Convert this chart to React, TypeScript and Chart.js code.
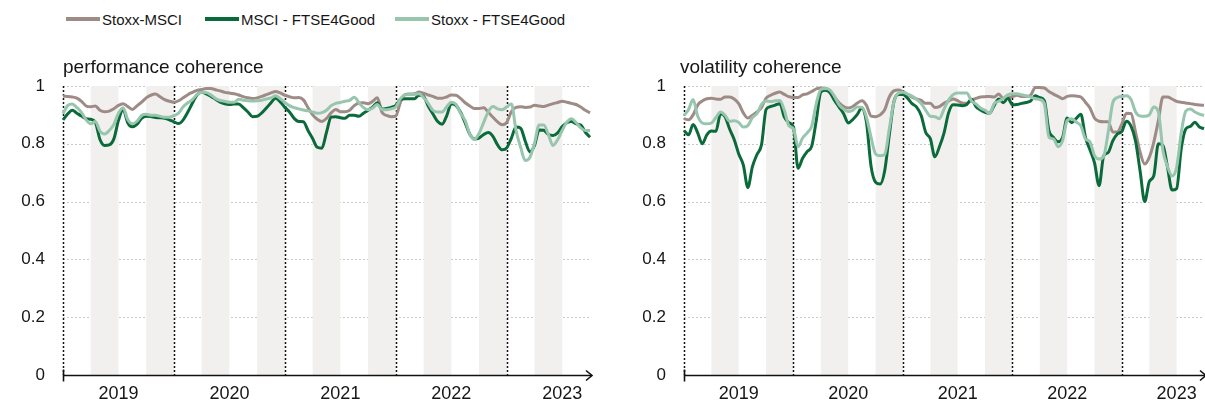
import React, { useEffect, useRef } from 'react';
import { Chart, registerables } from 'chart.js';

Chart.register(...registerables);

// ---------- data ----------
const YEAR_LABELS = ['2019', '2020', '2021', '2022', '2023'];
const STEPS_PER_YEAR = 24; // semi-monthly observations starting Jan 2019
const SERIES_NAMES = ['Stoxx-MSCI', 'MSCI - FTSE4Good', 'Stoxx - FTSE4Good'];
const SERIES_COLORS = ['#9e8b86', '#0b6a39', '#98c5ae'];
const Y_TICKS = [0, 0.2, 0.4, 0.6, 0.8, 1];
const PANEL_TITLES = ['performance coherence', 'volatility coherence'];

const perfStoxxMsci = [
  0.965, 0.964, 0.962, 0.958, 0.947, 0.931, 0.928, 0.931, 0.916, 0.911, 0.913, 0.921, 0.933, 0.939, 0.929, 0.919, 0.931, 0.944, 0.959, 0.968,
  0.972, 0.963, 0.953, 0.947, 0.944, 0.949, 0.959, 0.970, 0.978, 0.985, 0.988, 0.991, 0.991, 0.987, 0.983, 0.978, 0.976, 0.973,
  0.969, 0.963, 0.959, 0.957, 0.959, 0.964, 0.970, 0.976, 0.981, 0.976, 0.968, 0.963, 0.959, 0.960, 0.952, 0.925, 0.900, 0.885, 0.877, 0.888,
  0.907, 0.919, 0.911, 0.911, 0.916, 0.932, 0.941, 0.942, 0.939, 0.947, 0.959, 0.909, 0.898, 0.894, 0.896, 0.944, 0.970, 0.972, 0.973,
  0.979, 0.975, 0.969, 0.964, 0.958, 0.958, 0.962, 0.969, 0.968, 0.957, 0.942, 0.931, 0.922, 0.922, 0.925, 0.909, 0.892, 0.876, 0.866, 0.874,
  0.912, 0.926, 0.928, 0.926, 0.927, 0.933, 0.931, 0.929, 0.934, 0.939, 0.943, 0.947, 0.944, 0.940, 0.936, 0.927, 0.916, 0.907,
];
const perfMsciFtse = [
  0.883, 0.903, 0.916, 0.906, 0.896, 0.887, 0.885, 0.874, 0.815, 0.794, 0.796, 0.817, 0.881, 0.919, 0.873, 0.859, 0.867, 0.888, 0.895, 0.894,
  0.891, 0.890, 0.888, 0.883, 0.876, 0.870, 0.883, 0.910, 0.941, 0.970, 0.978, 0.973, 0.964, 0.954, 0.944, 0.938, 0.936, 0.938,
  0.938, 0.925, 0.910, 0.894, 0.895, 0.907, 0.924, 0.942, 0.958, 0.945, 0.926, 0.910, 0.888, 0.877, 0.876, 0.846, 0.818, 0.788, 0.785, 0.840,
  0.892, 0.894, 0.890, 0.888, 0.899, 0.899, 0.895, 0.906, 0.916, 0.927, 0.942, 0.920, 0.922, 0.926, 0.933, 0.954, 0.956, 0.956, 0.956,
  0.968, 0.964, 0.931, 0.904, 0.878, 0.868, 0.897, 0.939, 0.933, 0.909, 0.872, 0.833, 0.817, 0.820, 0.832, 0.839, 0.826, 0.796, 0.779, 0.786,
  0.820, 0.858, 0.854, 0.809, 0.772, 0.794, 0.848, 0.847, 0.832, 0.829, 0.838, 0.860, 0.873, 0.877, 0.869, 0.865, 0.840, 0.823,
];
const perfStoxxFtse = [
  0.904, 0.932, 0.938, 0.925, 0.909, 0.883, 0.869, 0.877, 0.844, 0.834, 0.846, 0.867, 0.906, 0.925, 0.884, 0.869, 0.878, 0.898, 0.902, 0.899,
  0.899, 0.895, 0.892, 0.892, 0.897, 0.906, 0.928, 0.942, 0.953, 0.971, 0.978, 0.977, 0.969, 0.957, 0.950, 0.947, 0.944, 0.944,
  0.954, 0.951, 0.949, 0.948, 0.949, 0.951, 0.955, 0.959, 0.966, 0.956, 0.943, 0.932, 0.925, 0.921, 0.917, 0.914, 0.910, 0.906, 0.908, 0.916,
  0.932, 0.940, 0.943, 0.947, 0.950, 0.961, 0.943, 0.925, 0.918, 0.924, 0.936, 0.919, 0.918, 0.921, 0.927, 0.956, 0.969, 0.971, 0.971,
  0.973, 0.960, 0.940, 0.916, 0.910, 0.910, 0.928, 0.944, 0.937, 0.906, 0.880, 0.834, 0.815, 0.836, 0.874, 0.911, 0.929, 0.921, 0.918, 0.928,
  0.938, 0.846, 0.788, 0.742, 0.753, 0.802, 0.865, 0.865, 0.832, 0.794, 0.814, 0.847, 0.875, 0.887, 0.873, 0.855, 0.846, 0.846,
];

const volStoxxMsci = [
  0.887, 0.883, 0.900, 0.934, 0.948, 0.956, 0.958, 0.955, 0.954, 0.962, 0.962, 0.955, 0.939, 0.907, 0.889, 0.899, 0.910, 0.926, 0.958, 0.968,
  0.975, 0.979, 0.971, 0.963, 0.960, 0.960, 0.969, 0.973, 0.981, 0.990, 0.993, 0.992, 0.980, 0.962, 0.942, 0.929, 0.924, 0.929, 0.941,
  0.949, 0.933, 0.896, 0.894, 0.900, 0.918, 0.962, 0.983, 0.986, 0.980, 0.971, 0.961, 0.955, 0.950, 0.940, 0.940, 0.926, 0.929, 0.940, 0.948,
  0.955, 0.949, 0.941, 0.940, 0.950, 0.957, 0.962, 0.963, 0.964, 0.962, 0.972, 0.957, 0.958, 0.963, 0.968, 0.964, 0.964, 0.968,
  0.995, 0.995, 0.993, 0.981, 0.972, 0.964, 0.956, 0.964, 0.966, 0.965, 0.962, 0.944, 0.924, 0.889, 0.878, 0.876, 0.876, 0.841, 0.841, 0.869,
  0.906, 0.905, 0.840, 0.771, 0.730, 0.753, 0.806, 0.881, 0.962, 0.962, 0.955, 0.947, 0.944, 0.941, 0.939, 0.936, 0.934, 0.933,
];
const volMsciFtse = [
  0.846, 0.831, 0.867, 0.838, 0.800, 0.831, 0.844, 0.843, 0.904, 0.894, 0.851, 0.815, 0.765, 0.727, 0.649, 0.721, 0.763, 0.797, 0.919, 0.929,
  0.934, 0.939, 0.892, 0.873, 0.858, 0.715, 0.750, 0.773, 0.792, 0.881, 0.979, 0.985, 0.977, 0.950, 0.927, 0.904, 0.872, 0.884, 0.902,
  0.925, 0.875, 0.723, 0.667, 0.661, 0.707, 0.829, 0.944, 0.971, 0.971, 0.958, 0.939, 0.927, 0.898, 0.839, 0.818, 0.755, 0.790, 0.837, 0.907,
  0.935, 0.934, 0.932, 0.936, 0.954, 0.929, 0.917, 0.909, 0.906, 0.933, 0.955, 0.942, 0.958, 0.935, 0.936, 0.940, 0.943, 0.948,
  0.966, 0.960, 0.949, 0.846, 0.822, 0.807, 0.822, 0.889, 0.873, 0.888, 0.902, 0.823, 0.779, 0.734, 0.655, 0.758, 0.770, 0.810, 0.834, 0.843,
  0.878, 0.861, 0.809, 0.705, 0.600, 0.669, 0.690, 0.800, 0.794, 0.719, 0.640, 0.645, 0.782, 0.851, 0.860, 0.875, 0.858, 0.852,
];
const volStoxxFtse = [
  0.898, 0.919, 0.953, 0.896, 0.872, 0.869, 0.872, 0.891, 0.910, 0.899, 0.878, 0.880, 0.874, 0.858, 0.863, 0.891, 0.904, 0.936, 0.948, 0.946,
  0.949, 0.950, 0.916, 0.862, 0.852, 0.790, 0.820, 0.838, 0.861, 0.939, 0.988, 0.991, 0.986, 0.964, 0.935, 0.920, 0.912, 0.916, 0.927,
  0.926, 0.892, 0.823, 0.765, 0.759, 0.763, 0.851, 0.943, 0.975, 0.978, 0.972, 0.965, 0.954, 0.939, 0.916, 0.895, 0.894, 0.887, 0.920, 0.951,
  0.970, 0.976, 0.976, 0.976, 0.949, 0.938, 0.924, 0.916, 0.905, 0.939, 0.947, 0.957, 0.969, 0.973, 0.973, 0.970, 0.966, 0.962,
  0.956, 0.953, 0.939, 0.823, 0.817, 0.790, 0.811, 0.881, 0.887, 0.875, 0.862, 0.817, 0.807, 0.759, 0.747, 0.757, 0.840, 0.942, 0.960, 0.964,
  0.966, 0.953, 0.910, 0.896, 0.895, 0.900, 0.927, 0.910, 0.777, 0.721, 0.689, 0.719, 0.837, 0.913, 0.920, 0.910, 0.903, 0.898,
];

const PERF_SERIES = [perfStoxxMsci, perfMsciFtse, perfStoxxFtse];
const VOL_SERIES = [volStoxxMsci, volMsciFtse, volStoxxFtse];

// ---------- styling ----------
const FONT = '"Liberation Sans", Arial, sans-serif';
const TEXT = '#161616';
const BAND = '#f1f0ee';
const GRID = '#c8c8c8';
const X_MAX = (perfStoxxMsci.length - 1) / STEPS_PER_YEAR;

const decorPlugin = {
  id: 'decor',
  beforeDatasetsDraw(chart: any) {
    const { ctx, chartArea: a, scales } = chart;
    const x = scales.x;
    const y = scales.y;
    ctx.save();
    // dotted horizontal grid
    ctx.strokeStyle = GRID;
    ctx.lineWidth = 1;
    ctx.setLineDash([2, 2]);
    for (const t of Y_TICKS) {
      if (t === 0) continue;
      const py = Math.round(y.getPixelForValue(t)) + 0.5;
      ctx.beginPath();
      ctx.moveTo(a.left, py);
      ctx.lineTo(a.right, py);
      ctx.stroke();
    }
    ctx.setLineDash([]);
    // shaded quarters (Q2 and Q4)
    ctx.fillStyle = BAND;
    for (let yr = 0; yr < YEAR_LABELS.length; yr++) {
      for (const [q0, q1] of [[0.25, 0.5], [0.75, 1]]) {
        if (yr + q0 >= X_MAX) continue;
        const x0 = x.getPixelForValue(yr + q0);
        const x1 = x.getPixelForValue(Math.min(yr + q1, X_MAX));
        ctx.fillRect(x0, a.top, x1 - x0, a.bottom - a.top);
      }
    }
    // dotted year boundaries
    ctx.strokeStyle = '#111';
    ctx.lineWidth = 1.5;
    ctx.setLineDash([2, 2]);
    for (let yr = 0; yr < YEAR_LABELS.length; yr++) {
      const px = Math.round(x.getPixelForValue(yr)) + 0.5;
      ctx.beginPath();
      ctx.moveTo(px, a.top);
      ctx.lineTo(px, a.bottom);
      ctx.stroke();
    }
    ctx.restore();
  },
  afterDatasetsDraw(chart: any) {
    const { ctx, chartArea: a } = chart;
    ctx.save();
    ctx.strokeStyle = '#111';
    ctx.lineWidth = 1.6;
    const by = Math.round(a.bottom) + 0.5;
    ctx.beginPath();
    ctx.moveTo(a.left, by);
    ctx.lineTo(a.right + 2, by);
    ctx.stroke();
    // arrow head
    ctx.beginPath();
    ctx.moveTo(a.right - 4, by - 5);
    ctx.lineTo(a.right + 2, by);
    ctx.lineTo(a.right - 4, by + 5);
    ctx.stroke();
    // origin tick
    ctx.beginPath();
    ctx.moveTo(Math.round(a.left) + 0.5, by - 6);
    ctx.lineTo(Math.round(a.left) + 0.5, by + 6);
    ctx.stroke();
    ctx.restore();
  },
};

function makeConfig(series: number[][], yWidth: number, padRight: number) {
  return {
    type: 'line' as const,
    data: {
      datasets: series.map((vals, si) => ({
        label: SERIES_NAMES[si],
        data: vals.map((v, i) => ({ x: i / STEPS_PER_YEAR, y: v })),
        borderColor: SERIES_COLORS[si],
        backgroundColor: SERIES_COLORS[si],
        borderWidth: 3,
        pointRadius: 0,
        tension: 0.3,
        cubicInterpolationMode: 'monotone' as const,
        fill: false,
        clip: false as any,
        order: 3 - si,
      })),
    },
    options: {
      animation: false as const,
      responsive: false,
      maintainAspectRatio: false,
      events: [],
      layout: { padding: { left: 0, right: padRight, top: 86, bottom: 0 } },
      plugins: { legend: { display: false }, tooltip: { enabled: false }, title: { display: false } },
      scales: {
        x: {
          type: 'linear' as const,
          min: 0,
          max: X_MAX,
          grid: { display: false, drawTicks: false },
          border: { display: false },
          afterBuildTicks: (s: any) => {
            s.ticks = YEAR_LABELS.map((_, i) => ({ value: i + 0.5 }));
          },
          afterFit: (s: any) => {
            s.height = 30;
          },
          ticks: {
            autoSkip: false,
            maxRotation: 0,
            padding: 8,
            color: TEXT,
            font: { family: FONT, size: 18 },
            callback: (v: any) => YEAR_LABELS[Math.floor(Number(v))],
          },
        },
        y: {
          min: 0,
          max: 1,
          grid: { display: false, drawTicks: false },
          border: { display: false },
          afterBuildTicks: (s: any) => {
            s.ticks = Y_TICKS.map((v) => ({ value: v }));
          },
          afterFit: (s: any) => {
            s.width = yWidth;
          },
          ticks: {
            padding: 18,
            color: TEXT,
            font: { family: FONT, size: 17 },
            callback: (v: any) => String(Math.round(Number(v) * 10) / 10),
          },
        },
      },
    },
    plugins: [decorPlugin],
  };
}

function Panel(props: { series: number[][]; left: number; width: number; yWidth: number; padRight: number; title: string; titleLeft: number }) {
  const ref = useRef<HTMLCanvasElement | null>(null);
  useEffect(() => {
    if (!ref.current) return;
    const chart = new Chart(ref.current, makeConfig(props.series, props.yWidth, props.padRight) as any);
    return () => chart.destroy();
  }, []);
  return (
    <>
      <canvas
        ref={ref}
        width={props.width}
        height={405}
        style={{ position: 'absolute', left: props.left, top: 0, width: props.width, height: 405 }}
      />
      <div
        style={{
          position: 'absolute',
          left: props.titleLeft,
          top: 56,
          fontFamily: FONT,
          fontSize: 19,
          lineHeight: '22px',
          color: TEXT,
          whiteSpace: 'nowrap',
        }}
      >
        {props.title}
      </div>
    </>
  );
}

const LEGEND_POS = [66, 205, 395];

export default function App() {
  return (
    <div style={{ position: 'fixed', left: 0, top: 0, width: 1205, height: 405, background: '#fff', overflow: 'hidden' }}>
      {SERIES_NAMES.map((name, i) => (
        <div
          key={name}
          style={{
            position: 'absolute',
            left: LEGEND_POS[i],
            top: 9,
            height: 20,
            display: 'flex',
            alignItems: 'center',
            fontFamily: FONT,
            fontSize: 15,
            color: TEXT,
            whiteSpace: 'nowrap',
          }}
        >
          <span style={{ display: 'inline-block', width: 34, height: 3.5, background: SERIES_COLORS[i], marginRight: 2 }} />
          <span>{name}</span>
        </div>
      ))}
      <Panel series={PERF_SERIES} left={0} width={600} yWidth={63} padRight={10} title={PANEL_TITLES[0]} titleLeft={63} />
      <Panel series={VOL_SERIES} left={620} width={585} yWidth={64} padRight={1} title={PANEL_TITLES[1]} titleLeft={680} />
    </div>
  );
}
